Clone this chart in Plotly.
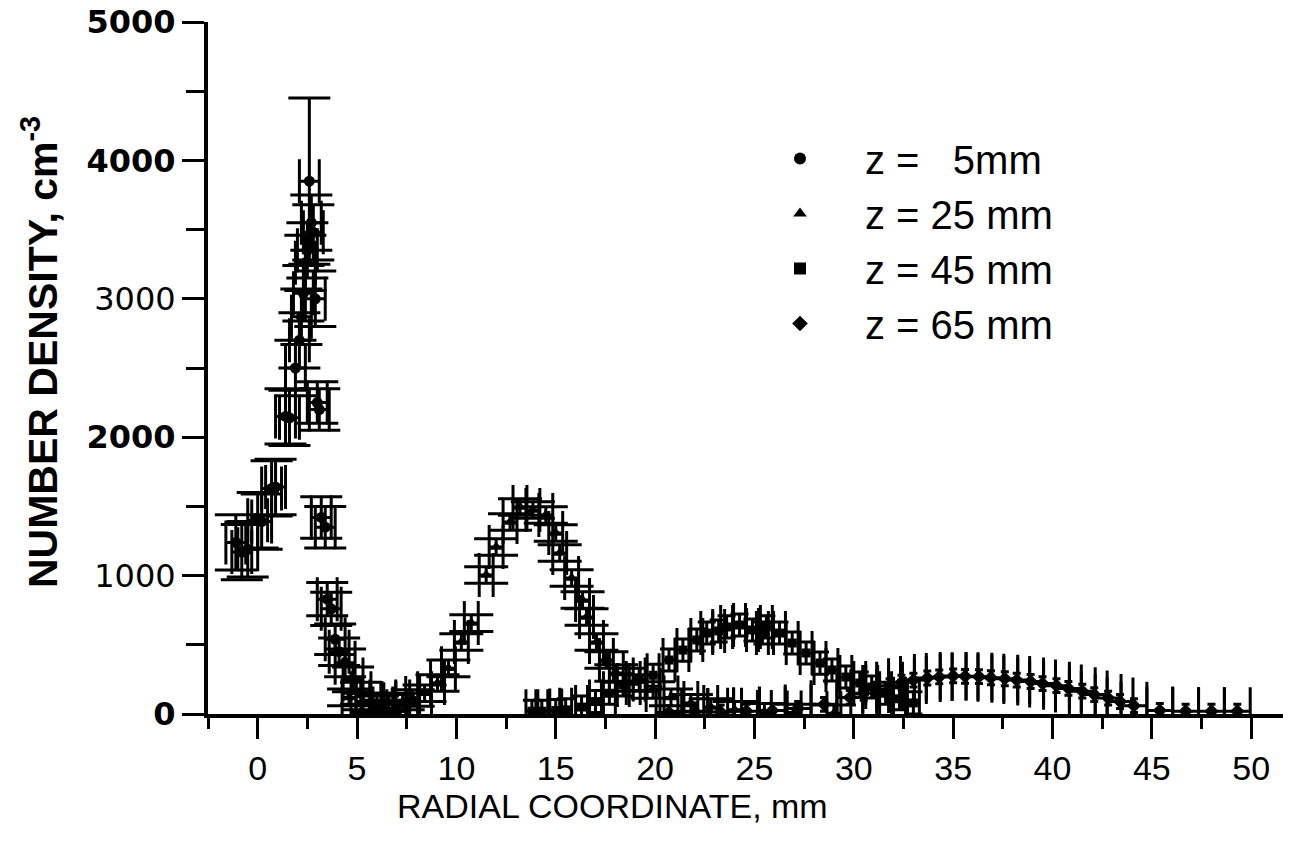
import plotly.graph_objects as go

# ---------------- data ----------------
# z = 5 mm  (circles)
x_z5 = [-1.1, -0.8, -0.5, 0.0, 0.2, 0.7, 0.9, 1.4, 1.6, 1.9, 2.1, 2.2, 2.3, 2.4,
        2.5, 2.6, 2.7, 2.8, 2.9, 3.0, 3.1, 3.2, 3.4, 3.5, 3.7, 3.9, 4.1, 4.4,
        4.8, 5.2, 5.7, 6.3, 7.0]
y_z5 = [1240, 1170, 1190, 1400, 1390, 1630, 1640, 2150, 2140, 2500, 2700, 2870,
        3040, 3260, 3350, 3850, 3550, 3480, 3000, 2250, 2200, 1420, 1350, 830,
        760, 540, 450, 370, 250, 150, 80, 40, 20]
ex_z5 = [0.5] * len(x_z5)
ey_z5 = [200, 200, 200, 200, 200, 200, 200, 200, 200, 200, 200, 200, 200, 200,
         200, 600, 200, 200, 200, 150, 150, 150, 150, 120, 120, 110, 100, 100,
         90, 80, 70, 60, 50]

# z = 25 mm  (triangles)
x_z25 = [4.6, 5.3, 6.0, 6.6, 7.3, 7.8, 8.4, 9.05, 9.6, 10.25, 10.75, 11.5, 12.0,
         12.7, 13.2, 13.85, 14.5, 15.0, 15.2, 15.8, 16.35, 16.55, 17.05, 17.55,
         18.05, 18.9, 19.9, 20.8, 21.8, 22.8, 24.0, 25.5, 27.0, 29.0]
y_z25 = [120, 90, 70, 80, 90, 116, 150, 224, 330, 520, 657, 1004, 1207, 1387,
         1496, 1474, 1438, 1308, 1163, 983, 824, 701, 520, 390, 296, 224, 173,
         120, 80, 50, 30, 15, 10, 5]
ex_z25 = [0.35] * len(x_z25)
ey_z25 = [60] * len(x_z25)

# z = 45 mm  (squares)
x_z45 = [13.8, 14.3, 15.0, 15.5, 16.3, 17.0, 17.7, 18.4, 19.2, 19.9, 20.7, 21.4,
         22.1, 22.6, 23.2, 23.6, 24.25, 24.9, 25.4, 25.6, 26.26, 26.9, 27.6,
         28.3, 28.9, 29.6, 30.3, 30.9, 31.6, 32.3, 33.0]
y_z45 = [20, 20, 25, 30, 50, 90, 150, 210, 250, 280, 390, 462, 535, 585, 600,
         629, 643, 607, 585, 629, 585, 513, 441, 368, 318, 267, 224, 195, 150,
         110, 80]
ex_z45 = [0.3] * len(x_z45)
ey_z45 = [80] * len(x_z45)

# z = 65 mm  (diamonds)
x_z65 = [20.7, 22.0, 23.3, 24.6, 25.9, 27.2, 28.5, 29.8, 30.5, 31.1, 31.8, 32.4,
         33.0, 33.7, 34.3, 35.0, 35.6, 36.3, 36.9, 37.6, 38.2, 38.9, 39.5, 40.2,
         40.8, 41.5, 42.1, 42.8, 43.4, 44.1, 45.4, 46.7, 48.0, 49.3]
y_z65 = [10, 15, 15, 20, 25, 40, 70, 120, 150, 180, 205, 230, 245, 260, 268,
         275, 272, 270, 262, 255, 245, 235, 220, 205, 185, 165, 140, 115, 90,
         60, 25, 20, 20, 20]
ex_z65 = [0.65] * len(x_z65)
ey_z65 = [50] * len(x_z65)

legend_names = ["z =\u00a0\u00a0\u00a05mm", "z = 25 mm", "z = 45 mm", "z = 65 mm"]
y_tickvals = [0, 1000, 2000, 3000, 4000, 5000]
y_ticktext = ["<b>0</b>", "1000", "<b>2000</b>", "3000", "<b>4000</b>", "<b>5000</b>"]
x_tickvals = [0, 5, 10, 15, 20, 25, 30, 35, 40, 45, 50]

# ---------------- figure ----------------
series = [
    (x_z5, y_z5, ex_z5, ey_z5, "circle", 11, 21, 22),
    (x_z25, y_z25, ex_z25, ey_z25, "triangle-up", 11, 22, 22),
    (x_z45, y_z45, ex_z45, ey_z45, "square", 9, 9, 22),
    (x_z65, y_z65, ex_z65, ey_z65, "diamond", 11, 4, 24),
]

fig = go.Figure()
for (xs, ys, exs, eys, sym, msize, wy, wx), name in zip(series, legend_names):
    fig.add_trace(go.Scatter(
        x=xs, y=ys, mode="markers", name=name,
        marker=dict(symbol=sym, size=msize, color="black"),
        error_y=dict(type="data", array=eys, visible=True, color="black",
                     thickness=3, width=wy),
        error_x=dict(type="data", array=exs, visible=True, color="black",
                     thickness=3, width=wx),
    ))

sans = "Liberation Sans, Arial, sans-serif"

# the page body adds an 8 px offset, so the figure is 8 px smaller and
# its margins are shifted accordingly
fig.update_layout(
    width=1285, height=848,
    margin=dict(l=200, r=10, t=14, b=142),
    paper_bgcolor="white", plot_bgcolor="white",
    showlegend=True,
    legend=dict(
        x=(735 - 208) / 1075, y=(714 - 126) / 692, xanchor="left", yanchor="top",
        bgcolor="rgba(0,0,0,0)", itemwidth=120, itemsizing="constant",
        font=dict(family=sans, size=40, color="black"),
        itemclick=False, itemdoubleclick=False,
    ),
    xaxis=dict(
        range=[-2.5, 51.6], showgrid=False, zeroline=False, automargin=False,
        showline=True, linecolor="black", linewidth=4,
        ticks="outside", ticklen=21, tickwidth=3, tickcolor="black",
        tickmode="array", tickvals=x_tickvals, ticklabeloverflow="allow",
        tickfont=dict(family=sans, size=34, color="black"),
        minor=dict(dtick=2.5, tick0=0, ticks="outside", ticklen=11,
                   tickwidth=3, tickcolor="black"),
    ),
    yaxis=dict(
        range=[0, 5000], showgrid=False, zeroline=False, automargin=False,
        showline=True, linecolor="black", linewidth=4,
        ticks="outside", ticklen=22, tickwidth=3, tickcolor="black",
        tickmode="array", tickvals=y_tickvals, ticktext=y_ticktext,
        ticklabeloverflow="allow",
        tickfont=dict(family="DejaVu Sans, sans-serif", size=32, color="black"),
        minor=dict(dtick=500, tick0=0, ticks="outside", ticklen=18,
                   tickwidth=3, tickcolor="black"),
    ),
    annotations=[
        dict(text="<b>NUMBER DENSITY, cm<sup>-3</sup></b>", textangle=-90,
             xref="paper", yref="paper", x=(40 - 208) / 1075, y=(714 - 352) / 692,
             xanchor="center", yanchor="middle", showarrow=False,
             font=dict(family=sans, size=41, color="black")),
        dict(text="RADIAL COORDINATE, mm",
             xref="paper", yref="paper", x=(612 - 208) / 1075, y=(714 - 806) / 692,
             xanchor="center", yanchor="middle", showarrow=False,
             font=dict(family=sans, size=34, color="black")),
    ],
)

fig.write_html("out.html")
